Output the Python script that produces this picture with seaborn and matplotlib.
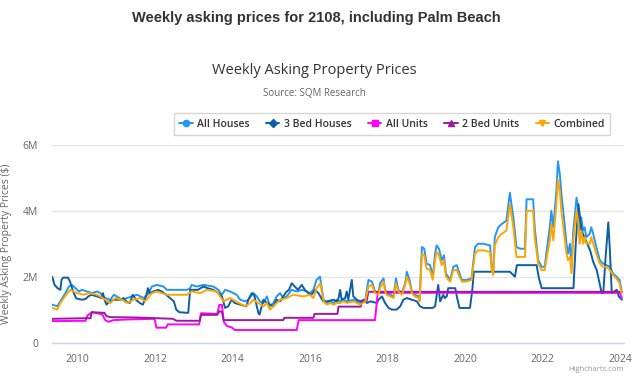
import pandas as pd
import seaborn as sns
import matplotlib.pyplot as plt
from matplotlib.lines import Line2D
from matplotlib.ticker import FuncFormatter

# values, prices in millions of dollars
house_year = [2009.34, 2009.47, 2009.55, 2009.68, 2009.77, 2009.85, 2009.94, 2010.03, 2010.11, 2010.24,
              2010.37, 2010.50, 2010.58, 2010.71, 2010.84, 2010.93, 2011.01, 2011.14, 2011.27, 2011.40,
              2011.53, 2011.70, 2011.83, 2011.91, 2012.04, 2012.21, 2012.30, 2012.82, 2012.90, 2012.94,
              2013.07, 2013.24, 2013.50, 2013.63, 2013.72, 2013.80, 2013.93, 2014.10, 2014.19, 2014.32,
              2014.40, 2014.53, 2014.62, 2014.70, 2014.79, 2014.88, 2014.96, 2015.05, 2015.13, 2015.22,
              2015.30, 2015.39, 2015.52, 2015.65, 2015.78, 2015.91, 2015.99, 2016.08, 2016.16, 2016.25,
              2016.34, 2016.43, 2016.52, 2016.60, 2016.69, 2016.77, 2016.86, 2016.94, 2017.12, 2017.20,
              2017.29, 2017.42, 2017.50, 2017.59, 2017.67, 2017.76, 2017.80, 2017.89, 2017.93, 2017.97,
              2018.06, 2018.15, 2018.21, 2018.27, 2018.36, 2018.45, 2018.49, 2018.56, 2018.62, 2018.70,
              2018.79, 2018.82, 2018.88, 2018.94, 2019.00, 2019.09, 2019.16, 2019.22, 2019.26, 2019.32,
              2019.39, 2019.45, 2019.50, 2019.61, 2019.69, 2019.78, 2019.85, 2019.91, 2020.03, 2020.16,
              2020.25, 2020.33, 2020.46, 2020.64, 2020.68, 2020.72, 2020.76, 2020.85, 2020.94, 2021.06,
              2021.15, 2021.19, 2021.24, 2021.32, 2021.41, 2021.54, 2021.58, 2021.75, 2021.79, 2021.88,
              2021.97, 2022.05, 2022.09, 2022.18, 2022.22, 2022.27, 2022.35, 2022.39, 2022.44, 2022.48,
              2022.57, 2022.61, 2022.65, 2022.70, 2022.74, 2022.78, 2022.82, 2022.87, 2022.91, 2022.95,
              2022.99, 2023.04, 2023.08, 2023.12, 2023.21, 2023.25, 2023.30, 2023.38, 2023.47, 2023.55,
              2023.64, 2023.73, 2023.81, 2023.90, 2023.98, 2024.03]
all_houses = [1.15, 1.10, 1.25, 1.50, 1.70, 1.75, 1.65, 1.55, 1.60, 1.55,
              1.50, 1.55, 1.50, 1.35, 1.30, 1.45, 1.40, 1.30, 1.35, 1.40,
              1.45, 1.35, 1.50, 1.70, 1.75, 1.70, 1.60, 1.60, 1.65, 1.75,
              1.70, 1.75, 1.70, 1.60, 1.45, 1.60, 1.55, 1.45, 1.30, 1.25,
              1.30, 1.50, 1.40, 1.25, 1.20, 1.40, 1.10, 1.20, 1.40, 1.50,
              1.35, 1.40, 1.60, 1.55, 1.60, 1.55, 1.50, 1.60, 1.90, 2.00,
              1.30, 1.20, 1.25, 1.20, 1.30, 1.25, 1.30, 1.25, 1.30, 1.25,
              1.20, 1.30, 1.90, 1.85, 1.55, 1.50, 1.80, 1.95, 1.60, 1.50,
              1.45, 1.40, 1.95, 1.60, 1.50, 1.80, 2.15, 1.90, 1.55, 1.45,
              1.40, 1.30, 2.90, 2.85, 2.40, 2.35, 2.00, 2.70, 2.95, 2.85,
              2.50, 2.65, 2.10, 1.90, 2.30, 2.35, 2.10, 1.90, 1.90, 1.95,
              2.90, 3.00, 3.00, 2.95, 2.30, 2.10, 3.20, 3.50, 3.60, 3.70,
              4.55, 4.20, 3.80, 2.90, 2.85, 2.85, 4.35, 4.35, 3.50, 2.50,
              2.30, 2.30, 2.70, 3.50, 4.00, 3.50, 4.60, 5.50, 5.10, 4.50,
              3.50, 3.00, 2.70, 3.00, 2.30, 3.30, 3.80, 4.40, 4.10, 3.40,
              3.80, 3.40, 3.50, 3.20, 3.30, 3.50, 3.30, 2.90, 2.50, 2.40,
              2.35, 2.30, 2.10, 2.00, 1.90, 1.60]

bed3_year = [2009.34, 2009.40, 2009.48, 2009.55, 2009.58, 2009.62, 2009.75, 2009.80, 2009.88, 2009.96,
             2010.10, 2010.20, 2010.27, 2010.35, 2010.50, 2010.61, 2010.65, 2010.69, 2010.74, 2010.82,
             2010.95, 2011.10, 2011.18, 2011.25, 2011.34, 2011.42, 2011.50, 2011.60, 2011.68, 2011.76,
             2011.81, 2011.86, 2011.95, 2012.07, 2012.17, 2012.28, 2012.38, 2012.48, 2012.54, 2012.62,
             2012.85, 2012.90, 2013.10, 2013.24, 2013.35, 2013.50, 2013.63, 2013.72, 2013.80, 2013.88,
             2013.97, 2014.05, 2014.19, 2014.35, 2014.40, 2014.49, 2014.55, 2014.62, 2014.66, 2014.69,
             2014.79, 2014.88, 2015.05, 2015.13, 2015.22, 2015.30, 2015.39, 2015.45, 2015.52, 2015.60,
             2015.68, 2015.78, 2015.86, 2015.95, 2016.03, 2016.12, 2016.21, 2016.33, 2016.43, 2016.60,
             2016.69, 2016.73, 2016.77, 2016.81, 2016.90, 2016.94, 2016.98, 2017.07, 2017.11, 2017.20,
             2017.29, 2017.38, 2017.46, 2017.55, 2017.72, 2017.76, 2017.85, 2017.93, 2018.02, 2018.10,
             2018.23, 2018.32, 2018.40, 2018.49, 2018.62, 2018.75, 2018.83, 2018.92, 2019.16, 2019.22,
             2019.30, 2019.35, 2019.43, 2019.47, 2019.52, 2019.56, 2019.74, 2019.78, 2019.85, 2020.12,
             2020.18, 2020.22, 2021.15, 2021.28, 2021.33, 2021.84, 2021.90, 2021.97, 2022.79, 2022.85,
             2022.92, 2023.00, 2023.22, 2023.30, 2023.39, 2023.52, 2023.56, 2023.62, 2023.69, 2023.73,
             2023.78, 2023.91, 2023.96, 2024.04]
bed3_houses = [2.00, 1.75, 1.65, 1.60, 1.90, 1.97, 1.97, 1.85, 1.55, 1.34,
               1.30, 1.32, 1.40, 1.45, 1.40, 1.35, 1.50, 1.30, 1.15, 1.25,
               1.30, 1.30, 1.35, 1.25, 1.20, 1.45, 1.30, 1.20, 1.15, 1.40,
               1.65, 1.50, 1.55, 1.60, 1.55, 1.45, 1.35, 1.25, 1.00, 0.92,
               0.90, 1.60, 1.60, 1.70, 1.65, 1.60, 1.50, 1.40, 1.05, 1.10,
               1.30, 1.20, 1.15, 1.10, 1.30, 1.50, 1.45, 1.10, 0.90, 0.85,
               1.30, 1.20, 1.10, 1.30, 1.25, 1.40, 1.55, 1.60, 1.80, 1.70,
               1.60, 1.75, 1.60, 1.50, 1.45, 1.60, 1.50, 1.25, 1.25, 1.30,
               1.25, 1.35, 1.60, 1.30, 1.35, 1.55, 1.30, 1.90, 1.40, 1.30,
               1.25, 1.30, 1.20, 1.25, 1.20, 1.30, 1.40, 1.20, 1.05, 1.00,
               1.00, 1.10, 1.30, 1.35, 1.30, 1.25, 1.10, 1.05, 1.05, 1.10,
               1.75, 1.25, 1.45, 1.35, 1.40, 1.65, 1.65, 1.40, 1.05, 1.05,
               1.60, 2.15, 2.15, 2.00, 2.35, 2.35, 1.95, 1.65, 1.65, 3.00,
               4.20, 3.40, 2.80, 2.45, 2.20, 1.50, 1.50, 2.60, 3.65, 2.80,
               1.50, 1.60, 1.40, 1.30]

units_year = [2009.34, 2010.20, 2010.25, 2010.37, 2010.63, 2010.71, 2010.79, 2010.92, 2011.30, 2011.98,
              2012.03, 2012.28, 2012.32, 2013.13, 2013.18, 2013.60, 2013.65, 2013.72, 2013.77, 2013.85,
              2013.97, 2014.05, 2015.65, 2015.70, 2017.67, 2017.74, 2023.98, 2024.04]
all_units = [0.65, 0.66, 0.82, 0.92, 0.86, 0.68, 0.63, 0.68, 0.70, 0.72,
             0.45, 0.45, 0.55, 0.55, 0.89, 0.87, 1.14, 1.14, 0.62, 0.50,
             0.46, 0.38, 0.38, 0.68, 0.68, 1.51, 1.51, 1.35]

bed2_year = [2009.34, 2010.33, 2010.36, 2010.69, 2010.74, 2010.85, 2011.50, 2012.45, 2012.55, 2013.15,
             2013.18, 2013.60, 2013.65, 2013.72, 2013.76, 2015.30, 2015.33, 2016.08, 2016.11, 2016.70,
             2016.73, 2017.30, 2017.33, 2017.45, 2017.50, 2024.04]
bed2_units = [0.72, 0.74, 0.92, 0.90, 0.80, 0.77, 0.76, 0.72, 0.66, 0.66,
              0.84, 0.84, 0.95, 0.93, 0.68, 0.68, 0.75, 0.75, 0.87, 0.87,
              1.09, 1.09, 1.24, 1.24, 1.54, 1.54]

comb_year = [2009.34, 2009.47, 2009.55, 2009.73, 2009.81, 2009.98, 2010.15, 2010.28, 2010.50, 2010.71,
             2010.84, 2010.97, 2011.14, 2011.27, 2011.44, 2011.61, 2011.74, 2011.91, 2012.04, 2012.30,
             2012.82, 2012.94, 2013.16, 2013.33, 2013.59, 2013.67, 2013.76, 2013.93, 2014.15, 2014.32,
             2014.45, 2014.53, 2014.66, 2014.79, 2014.88, 2014.96, 2015.09, 2015.22, 2015.39, 2015.56,
             2015.82, 2015.99, 2016.08, 2016.16, 2016.26] + house_year[60:]
combined = [1.05, 1.00, 1.20, 1.50, 1.60, 1.50, 1.45, 1.50, 1.45, 1.30,
            1.20, 1.35, 1.30, 1.20, 1.30, 1.35, 1.25, 1.50, 1.55, 1.45,
            1.45, 1.55, 1.50, 1.60, 1.55, 1.40, 1.25, 1.35, 1.20, 1.10,
            1.20, 1.30, 1.20, 1.10, 1.20, 1.00, 1.15, 1.30, 1.35, 1.45,
            1.40, 1.45, 1.35, 1.65, 1.80,
            1.25, 1.15, 1.20, 1.15, 1.20, 1.20, 1.25, 1.20, 1.25, 1.20,
            1.15, 1.25, 1.70, 1.75, 1.50, 1.45, 1.65, 1.85, 1.55, 1.45,
            1.40, 1.35, 1.80, 1.55, 1.45, 1.75, 2.00, 1.80, 1.50, 1.40,
            1.35, 1.25, 2.70, 2.65, 2.25, 2.20, 1.90, 2.50, 2.75, 2.65,
            2.35, 2.50, 2.00, 1.85, 2.20, 2.20, 2.00, 1.85, 1.85, 1.90,
            2.70, 2.80, 2.80, 2.75, 2.20, 2.05, 2.95, 3.20, 3.30, 3.40,
            4.20, 3.90, 3.50, 2.60, 2.60, 2.60, 4.00, 4.00, 3.20, 2.40,
            2.20, 2.20, 2.50, 3.10, 3.60, 3.10, 4.20, 4.95, 4.60, 4.00,
            3.10, 2.70, 2.50, 2.60, 2.10, 3.00, 3.50, 4.00, 3.70, 3.00,
            3.40, 3.00, 3.20, 3.00, 3.00, 3.20, 3.00, 2.70, 2.40, 2.30,
            2.30, 2.20, 2.05, 1.95, 1.80, 1.50]

names = ['All Houses', '3 Bed Houses', 'All Units', '2 Bed Units', 'Combined']
colors = ['#2196f3', '#0d5ea6', '#ff00ff', '#9c1aa0', '#ffa500']
markers = ['o', 'D', 's', '^', 'v']

frames = []
for name, xs, ys in zip(names,
                        [house_year, bed3_year, units_year, bed2_year, comb_year],
                        [all_houses, bed3_houses, all_units, bed2_units, combined]):
    frames.append(pd.DataFrame({'year': xs, 'price': ys, 'series': name}))
df = pd.concat(frames, ignore_index=True)

sns.set_style('white')
plt.rcParams['font.family'] = ['Open Sans', 'DejaVu Sans']

fig = plt.figure(figsize=(6.33, 3.77), dpi=100)
ax = fig.add_axes([0.0821, 0.0915, 0.9037, 0.5239])

sns.lineplot(data=df, x='year', y='price', hue='series', hue_order=names,
             palette=dict(zip(names, colors)), estimator=None, sort=False,
             linewidth=1.4, legend=False, ax=ax)

ax.set_xlim(2009.334, 2024.095)
ax.set_ylim(0, 6)
ax.set_xticks(range(2010, 2025, 2))
ax.set_yticks([0, 2, 4, 6])
ax.yaxis.set_major_formatter(FuncFormatter(lambda v, p: '0' if v == 0 else f'{v:.0f}M'))
ax.grid(axis='y', color='#e6e6e6', linewidth=1)
ax.set_axisbelow(True)
for s in ['top', 'right', 'left']:
    ax.spines[s].set_visible(False)
ax.spines['bottom'].set_color('#ccd6eb')
ax.spines['bottom'].set_linewidth(1)
ax.tick_params(axis='x', colors='#ccd6eb', length=5, width=1, direction='out', pad=3,
               labelcolor='#666666', labelsize=7.5)
ax.tick_params(axis='y', length=0, pad=10, labelcolor='#666666', labelsize=7.5)
ax.set_xlabel('')
ax.set_ylabel('Weekly Asking Property Prices ($)', color='#666666', fontsize=7.5, labelpad=8)

fig.text(0.5, 0.952, 'Weekly asking prices for 2108, including Palm Beach',
         ha='center', va='center', fontsize=10.5, fontweight='bold', color='#333333',
         family=['Liberation Sans', 'DejaVu Sans'])
fig.text(0.497, 0.814, 'Weekly Asking Property Prices', ha='center', va='center',
         fontsize=10.5, color='#333333')
fig.text(0.497, 0.753, 'Source: SQM Research', ha='center', va='center',
         fontsize=7, color='#666666')
fig.text(0.985, 0.02, 'Highcharts.com', ha='right', va='center', fontsize=5.5, color='#999999')

handles = [Line2D([0], [0], color=c, marker=m, markersize=4.5, linewidth=1.4)
           for c, m in zip(colors, markers)]
leg = fig.legend(handles, names, loc='center', bbox_to_anchor=(0.619, 0.671), ncol=5,
                 frameon=True, fontsize=7.5, handlelength=1.3, handletextpad=0.4,
                 columnspacing=1.6, borderpad=0.5, fancybox=False)
leg.get_frame().set_edgecolor('#cccccc')
leg.get_frame().set_linewidth(1)
for t in leg.get_texts():
    t.set_color('#333333')
    t.set_fontweight('semibold')

fig.savefig('out.png', dpi=100, facecolor='white')
